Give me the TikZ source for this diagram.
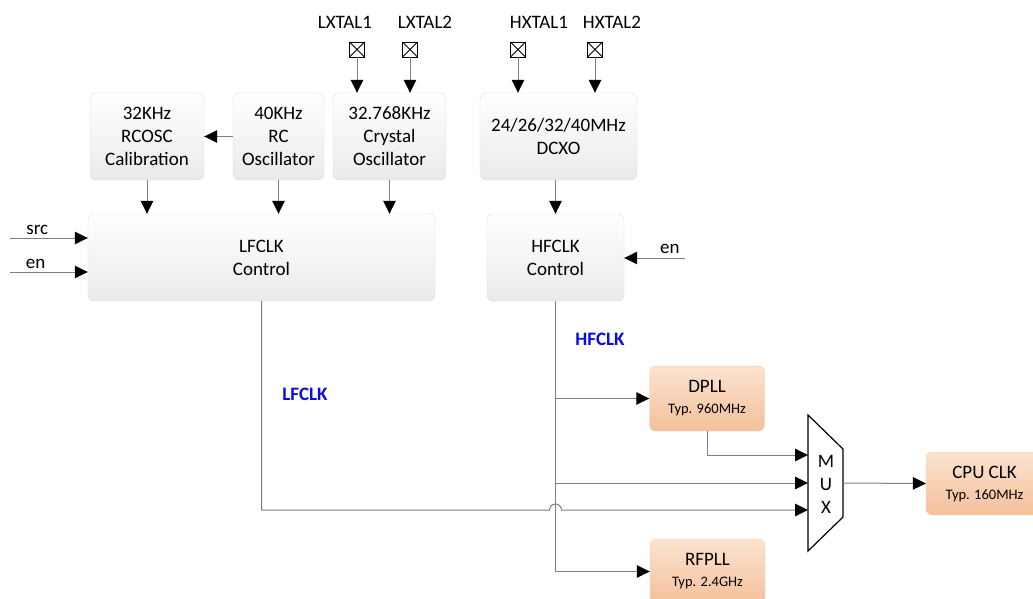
\documentclass[tikz,border=0pt]{standalone}
\usepackage{fontspec}
\setmainfont{Carlito}
\usepackage{xcolor}
\usetikzlibrary{arrows.meta,positioning}

\definecolor{boxbot}{HTML}{EAEAEA}
\definecolor{boxline}{HTML}{DADADA}
\definecolor{plltop}{HTML}{FCE3CF}
\definecolor{pllbot}{HTML}{F4C09B}
\definecolor{pllline}{HTML}{F3D0B4}
\definecolor{wiregray}{HTML}{7F7F7F}
\definecolor{clkblue}{HTML}{0A0AE6}

\tikzset{
  blk/.style={draw=boxline, rounded corners=6pt, top color=white, bottom color=boxbot,
    align=center, inner sep=0pt, font=\fontsize{19}{23}\selectfont},
  pll/.style={draw=pllline, rounded corners=6pt, top color=plltop, bottom color=pllbot,
    align=center, inner sep=0pt, minimum width=115pt, minimum height=65pt,
    font=\fontsize{19}{21}\selectfont},
  xpin/.style={draw, line width=0.9pt, minimum size=15pt, inner sep=0pt,
    path picture={\draw[line width=0.8pt]
      (path picture bounding box.south west) -- (path picture bounding box.north east)
      (path picture bounding box.north west) -- (path picture bounding box.south east);}},
  wire/.style={draw=wiregray, line width=1pt},
  sig/.style={wire, -{Triangle[length=13pt,width=12.5pt,color=black]}},
  clk/.style={text=clkblue, font=\fontsize{19}{23}\bfseries\selectfont},
  lbl/.style={font=\fontsize{19}{23}\selectfont, inner sep=1pt},
}
\newcommand{\typ}[1]{{\fontsize{14.5}{16}\selectfont #1}}

\begin{document}
\begin{tikzpicture}[x=1pt, y=-1pt]
  \clip (0,0) rectangle (1033,599);

  % oscillators
  \node[blk, minimum width=114pt, minimum height=87pt] (cal) at (147,136.5) {32KHz\\RCOSC\\Calibration};
  \node[blk, minimum width=91pt, minimum height=87pt] (rc) at (278.5,136.5) {40KHz\\RC\\Oscillator};
  \node[blk, minimum width=113pt, minimum height=87pt] (xo) at (389.5,136.5) {32.768KHz\\Crystal\\Oscillator};
  \node[blk, minimum width=157pt, minimum height=87pt] (dcxo) at (558.5,136.5) {24/26/32/40MHz\\DCXO};

  % clock control
  \node[blk, minimum width=347pt, minimum height=87pt] (lfc) at (261.5,257.5) {LFCLK\\Control};
  \node[blk, minimum width=137pt, minimum height=87pt] (hfc) at (555.5,257.5) {HFCLK\\Control};

  % crystal pins
  \foreach \n/\x/\lx/\t in {lx1/357/345/LXTAL1, lx2/410/425/LXTAL2, hx1/518/539/HXTAL1, hx2/595/612/HXTAL2} {
    \node[xpin] (\n) at (\x,49.5) {};
    \node[lbl] (\n t) at (\lx,22) {\t};
  }
  \draw[sig] (lx1) -- (lx1 |- xo.north);
  \draw[sig] (lx2) -- (lx2 |- xo.north);
  \draw[sig] (hx1) -- (hx1 |- dcxo.north);
  \draw[sig] (hx2) -- (hx2 |- dcxo.north);

  \draw[sig] (rc) -- (cal);
  \draw[sig] (cal.south) -- (cal.south |- lfc.north);
  \draw[sig] (rc.south) -- (rc.south |- lfc.north);
  \draw[sig] (xo.south) -- (xo.south |- lfc.north);
  \draw[sig] (hfc.north |- dcxo.south) -- (hfc.north);

  % control inputs
  \coordinate (srcin) at (10,238);
  \coordinate (enin) at (10,272);
  \coordinate (hfenin) at (685,258);
  \draw[sig] (srcin) -- node[lbl, above=2pt, pos=0.35] (srct) {src} (srcin -| lfc.west);
  \draw[sig] (enin) -- node[lbl, above=2pt, pos=0.33] (ent) {en} (enin -| lfc.west);
  \draw[sig] (hfenin) -- node[lbl, above=3pt, pos=0.25] (hfent) {en} (hfenin -| hfc.east);

  % PLLs, mux and cpu clock
  \node[pll] (dpll) at (707,398.5) {DPLL\\\typ{Typ. 960MHz}};
  \node[pll] (rfpll) at (707.5,571.5) {RFPLL\\\typ{Typ. 2.4GHz}};
  \node[pll, minimum width=117pt, minimum height=63pt] (cpu) at (984.5,483.5) {CPU CLK\\\typ{Typ. 160MHz}};

  \draw[line width=1.2pt] (808,415) -- (843,449) -- (843,517) -- (808,551) -- cycle;
  \node[align=center, font=\fontsize{19}{23}\selectfont] (mux) at (826,484) {M\\U\\X};
  \coordinate (muxin1) at (808,455);
  \coordinate (muxin2) at (808,483);
  \coordinate (muxin3) at (808,510);
  \coordinate (muxout) at (843,483);
  \coordinate (hop) at (549.5,510);

  \draw[sig] (hfc.south) -- (hfc.south |- rfpll.west) -- (rfpll.west);
  \draw[sig] (hfc.south |- dpll.west) -- (dpll.west);
  \draw[sig] (hfc.south |- muxin2) -- (muxin2);
  \draw[sig] (dpll.south) |- (muxin1);
  \draw[sig] (lfc.south) |- (hop) arc[start angle=180, end angle=0, radius=6pt] -- (muxin3);
  \draw[sig] (muxout) -- (cpu.west);

  \node[clk] (hflab) at (600,339) {HFCLK};
  \node[clk] (lflab) at (305,394) {LFCLK};
\end{tikzpicture}
\end{document}
